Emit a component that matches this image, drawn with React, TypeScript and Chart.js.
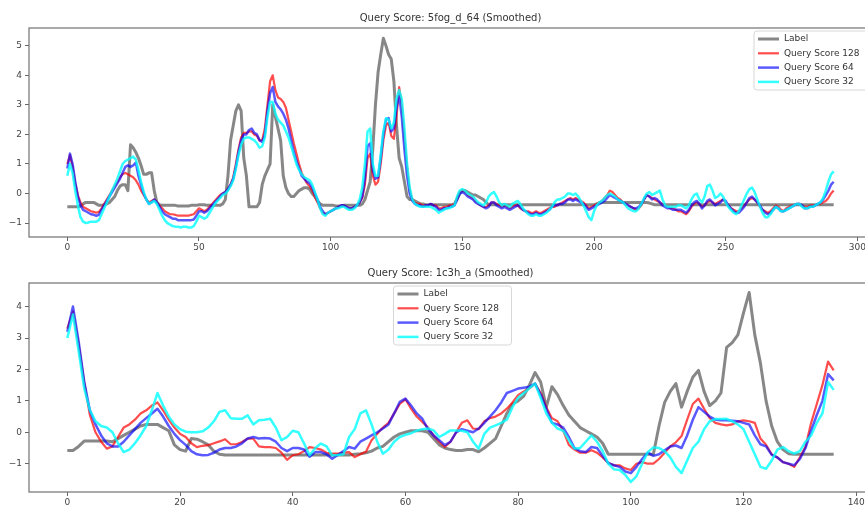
import { useEffect, useRef } from "react";
import { Chart, registerables } from "chart.js";
Chart.register(...registerables);

const seriesNames = ["Label", "Query Score 128", "Query Score 64", "Query Score 32"];
const topTitle = "Query Score: 5fog_d_64 (Smoothed)";
const botTitle = "Query Score: 1c3h_a (Smoothed)";

const topXTicks = [0, 50, 100, 150, 200, 250, 300];
const topYTicks = [-1, 0, 1, 2, 3, 4, 5];
const botXTicks = [0, 20, 40, 60, 80, 100, 120, 140];
const botYTicks = [-1, 0, 1, 2, 3, 4];

const topLabel = [
  -0.45,-0.45,-0.45,-0.45,-0.45,-0.42,-0.35,-0.3,-0.3,-0.3,
  -0.3,-0.35,-0.4,-0.4,-0.38,-0.35,-0.3,-0.2,-0.1,0.1,
  0.25,0.3,0.3,0.1,1.65,1.55,1.4,1.2,0.95,0.65,
  0.65,0.7,0.7,0.1,-0.3,-0.38,-0.4,-0.4,-0.4,-0.4,
  -0.4,-0.4,-0.42,-0.42,-0.42,-0.42,-0.42,-0.4,-0.4,-0.4,
  -0.38,-0.38,-0.38,-0.4,-0.4,-0.4,-0.4,-0.4,-0.4,-0.35,
  -0.2,0.6,1.8,2.3,2.8,3.0,2.8,1.2,0.6,-0.45,
  -0.45,-0.45,-0.45,-0.3,0.3,0.6,0.8,1.0,3.0,2.6,
  2.2,1.8,0.6,0.2,0.0,-0.1,-0.1,0.0,0.1,0.15,
  0.2,0.2,0.15,0.0,-0.1,-0.25,-0.35,-0.4,-0.4,-0.4,
  -0.4,-0.4,-0.42,-0.42,-0.42,-0.4,-0.4,-0.4,-0.4,-0.4,
  -0.4,-0.4,-0.35,-0.2,0.1,0.4,1.5,3.0,4.1,4.7,
  5.25,5.0,4.7,4.55,3.8,2.3,1.2,0.9,0.4,-0.1,
  -0.2,-0.2,-0.25,-0.3,-0.35,-0.35,-0.38,-0.38,-0.38,-0.38,
  -0.38,-0.38,-0.38,-0.38,-0.38,-0.38,-0.38,-0.35,-0.2,0.0,
  0.1,0.1,0.05,0.0,-0.05,-0.05,-0.1,-0.15,-0.2,-0.3,
  -0.38,-0.38,-0.38,-0.38,-0.38,-0.38,-0.38,-0.38,-0.38,-0.38,
  -0.38,-0.38,-0.38,-0.38,-0.38,-0.38,-0.38,-0.38,-0.38,-0.38,
  -0.38,-0.38,-0.38,-0.38,-0.38,-0.38,-0.38,-0.38,-0.38,-0.38,
  -0.38,-0.38,-0.38,-0.38,-0.38,-0.38,-0.38,-0.38,-0.38,-0.38,
  -0.38,-0.35,-0.32,-0.3,-0.3,-0.3,-0.3,-0.3,-0.3,-0.3,
  -0.3,-0.3,-0.3,-0.3,-0.3,-0.3,-0.3,-0.3,-0.3,-0.3,
  -0.3,-0.32,-0.35,-0.38,-0.38,-0.38,-0.38,-0.38,-0.38,-0.38,
  -0.38,-0.38,-0.38,-0.38,-0.38,-0.38,-0.38,-0.38,-0.38,-0.38,
  -0.38,-0.38,-0.38,-0.38,-0.38,-0.38,-0.38,-0.38,-0.38,-0.38,
  -0.38,-0.38,-0.38,-0.38,-0.38,-0.38,-0.38,-0.38,-0.38,-0.38,
  -0.38,-0.38,-0.38,-0.38,-0.38,-0.38,-0.38,-0.38,-0.38,-0.38,
  -0.38,-0.38,-0.38,-0.38,-0.38,-0.38,-0.38,-0.38,-0.38,-0.38,
  -0.38,-0.38,-0.38,-0.38,-0.38,-0.38,-0.38,-0.38,-0.38,-0.38,
  -0.38,-0.38,
];

const topRed = [
  1.0,1.3,0.9,0.35,-0.05,-0.3,-0.45,-0.5,-0.55,-0.6,
  -0.62,-0.65,-0.62,-0.5,-0.35,-0.2,-0.05,0.1,0.25,0.4,
  0.55,0.65,0.7,0.65,0.6,0.55,0.45,0.3,0.1,-0.05,
  -0.2,-0.3,-0.25,-0.2,-0.3,-0.4,-0.5,-0.6,-0.65,-0.7,
  -0.7,-0.72,-0.75,-0.75,-0.75,-0.75,-0.75,-0.72,-0.7,-0.6,
  -0.5,-0.55,-0.6,-0.55,-0.45,-0.35,-0.25,-0.15,-0.05,0.0,
  0.05,0.15,0.3,0.55,1.0,1.5,1.9,2.05,2.05,2.1,
  2.1,2.0,1.95,1.8,1.8,2.2,3.0,3.8,4.0,3.5,
  3.25,3.2,3.1,2.9,2.5,2.1,1.7,1.35,1.0,0.7,
  0.5,0.35,0.25,0.1,-0.1,-0.3,-0.5,-0.65,-0.7,-0.65,
  -0.6,-0.55,-0.5,-0.45,-0.4,-0.4,-0.45,-0.5,-0.5,-0.45,
  -0.4,-0.3,-0.15,0.3,1.2,1.35,0.6,0.3,0.4,1.0,
  1.8,2.3,2.4,1.95,1.85,2.6,3.6,3.0,1.9,0.9,
  0.1,-0.2,-0.3,-0.35,-0.35,-0.4,-0.4,-0.4,-0.35,-0.4,
  -0.4,-0.5,-0.5,-0.45,-0.45,-0.4,-0.4,-0.35,-0.15,0.05,
  0.1,0.05,-0.05,-0.1,-0.15,-0.25,-0.35,-0.4,-0.45,-0.45,
  -0.4,-0.3,-0.3,-0.35,-0.4,-0.45,-0.4,-0.45,-0.5,-0.45,
  -0.4,-0.4,-0.5,-0.55,-0.6,-0.6,-0.65,-0.65,-0.6,-0.65,
  -0.65,-0.6,-0.55,-0.5,-0.45,-0.45,-0.4,-0.35,-0.3,-0.25,
  -0.2,-0.15,-0.2,-0.15,-0.2,-0.25,-0.3,-0.4,-0.5,-0.45,
  -0.4,-0.35,-0.3,-0.25,-0.15,-0.05,0.1,0.05,-0.05,-0.15,
  -0.2,-0.3,-0.35,-0.4,-0.45,-0.5,-0.55,-0.5,-0.4,-0.2,
  -0.05,-0.1,-0.15,-0.2,-0.25,-0.3,-0.35,-0.4,-0.45,-0.5,
  -0.5,-0.55,-0.6,-0.6,-0.65,-0.7,-0.6,-0.45,-0.35,-0.3,
  -0.35,-0.45,-0.4,-0.3,-0.25,-0.3,-0.35,-0.3,-0.25,-0.2,
  -0.3,-0.4,-0.5,-0.55,-0.6,-0.6,-0.5,-0.4,-0.3,-0.2,
  -0.15,-0.2,-0.3,-0.45,-0.55,-0.6,-0.65,-0.6,-0.5,-0.4,
  -0.45,-0.55,-0.6,-0.5,-0.45,-0.4,-0.4,-0.35,-0.35,-0.4,
  -0.45,-0.45,-0.4,-0.4,-0.4,-0.35,-0.35,-0.3,-0.25,-0.15,
  0.0,0.1,
];

const topBlue = [
  0.85,1.35,1.0,0.4,-0.1,-0.4,-0.55,-0.6,-0.65,-0.7,
  -0.72,-0.75,-0.72,-0.55,-0.4,-0.25,-0.1,0.05,0.2,0.35,
  0.5,0.7,0.9,0.95,0.9,0.95,1.05,0.6,0.3,0.0,
  -0.2,-0.35,-0.3,-0.2,-0.3,-0.45,-0.6,-0.7,-0.75,-0.8,
  -0.85,-0.85,-0.9,-0.9,-0.9,-0.9,-0.9,-0.9,-0.88,-0.75,
  -0.6,-0.6,-0.65,-0.6,-0.5,-0.4,-0.3,-0.2,-0.1,0.0,
  0.05,0.15,0.3,0.5,0.9,1.4,1.8,2.0,2.0,2.15,
  2.2,2.05,2.0,1.8,1.75,2.0,2.8,3.4,3.6,3.1,
  2.95,2.85,2.7,2.5,2.2,1.8,1.4,1.1,0.85,0.6,
  0.5,0.4,0.35,0.2,0.0,-0.2,-0.45,-0.6,-0.7,-0.65,
  -0.6,-0.55,-0.5,-0.45,-0.4,-0.4,-0.45,-0.5,-0.5,-0.45,
  -0.4,-0.3,-0.1,0.5,1.6,1.7,0.8,0.5,0.55,1.2,
  2.0,2.5,2.55,2.1,2.2,2.9,3.35,2.6,1.5,0.6,
  0.0,-0.25,-0.35,-0.4,-0.4,-0.45,-0.4,-0.4,-0.35,-0.4,
  -0.45,-0.55,-0.55,-0.5,-0.5,-0.45,-0.45,-0.4,-0.2,0.0,
  0.05,0.0,-0.1,-0.15,-0.2,-0.3,-0.35,-0.4,-0.45,-0.5,
  -0.45,-0.3,-0.3,-0.4,-0.45,-0.5,-0.45,-0.5,-0.55,-0.5,
  -0.45,-0.4,-0.45,-0.55,-0.6,-0.65,-0.7,-0.7,-0.65,-0.7,
  -0.7,-0.65,-0.6,-0.55,-0.45,-0.4,-0.4,-0.35,-0.35,-0.3,
  -0.2,-0.2,-0.25,-0.2,-0.25,-0.3,-0.35,-0.45,-0.55,-0.5,
  -0.45,-0.4,-0.35,-0.3,-0.25,-0.15,-0.05,-0.1,-0.15,-0.2,
  -0.25,-0.3,-0.35,-0.4,-0.45,-0.5,-0.5,-0.45,-0.35,-0.2,
  -0.05,-0.1,-0.2,-0.15,-0.2,-0.3,-0.4,-0.45,-0.5,-0.5,
  -0.55,-0.55,-0.55,-0.55,-0.6,-0.65,-0.55,-0.4,-0.3,-0.25,
  -0.35,-0.5,-0.4,-0.25,-0.2,-0.3,-0.4,-0.35,-0.3,-0.2,
  -0.25,-0.4,-0.5,-0.6,-0.65,-0.65,-0.55,-0.45,-0.3,-0.15,
  -0.1,-0.2,-0.3,-0.4,-0.55,-0.65,-0.7,-0.65,-0.55,-0.45,
  -0.5,-0.6,-0.6,-0.55,-0.5,-0.45,-0.4,-0.35,-0.35,-0.4,
  -0.5,-0.5,-0.45,-0.45,-0.4,-0.35,-0.3,-0.2,-0.05,0.1,
  0.3,0.4,
];

const topCyan = [
  0.6,1.0,0.7,0.1,-0.4,-0.8,-0.95,-1.0,-0.98,-0.95,
  -0.95,-0.95,-0.9,-0.7,-0.5,-0.3,-0.1,0.1,0.3,0.5,
  0.75,1.0,1.1,1.15,1.2,1.25,1.15,0.8,0.4,0.05,
  -0.2,-0.35,-0.3,-0.25,-0.35,-0.55,-0.75,-0.9,-1.0,-1.05,
  -1.1,-1.12,-1.12,-1.15,-1.12,-1.12,-1.15,-1.15,-1.1,-0.95,
  -0.75,-0.8,-0.85,-0.8,-0.65,-0.5,-0.35,-0.25,-0.15,-0.05,
  0.0,0.1,0.25,0.45,0.85,1.3,1.65,1.85,1.9,1.9,
  1.85,1.8,1.7,1.55,1.6,1.9,2.6,3.1,3.1,2.7,
  2.5,2.4,2.3,2.1,1.9,1.6,1.3,1.0,0.8,0.65,
  0.55,0.5,0.45,0.3,0.05,-0.2,-0.5,-0.7,-0.75,-0.65,
  -0.6,-0.55,-0.5,-0.5,-0.45,-0.45,-0.5,-0.55,-0.55,-0.5,
  -0.4,-0.2,0.2,1.0,2.1,2.2,1.0,0.6,0.6,1.3,
  2.1,2.55,2.5,2.2,2.4,3.2,3.5,3.2,2.2,1.0,
  0.2,-0.2,-0.35,-0.4,-0.45,-0.45,-0.45,-0.45,-0.45,-0.5,
  -0.55,-0.65,-0.6,-0.55,-0.5,-0.5,-0.45,-0.4,-0.1,0.1,
  0.15,0.1,0.0,-0.05,-0.1,-0.2,-0.3,-0.35,-0.4,-0.3,
  -0.1,0.0,0.05,-0.1,-0.3,-0.4,-0.35,-0.4,-0.45,-0.35,
  -0.3,-0.25,-0.35,-0.5,-0.6,-0.7,-0.75,-0.75,-0.7,-0.75,
  -0.75,-0.7,-0.65,-0.55,-0.45,-0.3,-0.2,-0.2,-0.15,-0.1,
  0.0,0.0,-0.05,0.0,-0.1,-0.25,-0.4,-0.6,-0.8,-0.9,
  -0.6,-0.4,-0.3,-0.25,-0.15,-0.05,0.0,-0.05,-0.1,-0.2,
  -0.25,-0.3,-0.4,-0.5,-0.55,-0.6,-0.6,-0.5,-0.35,-0.15,
  0.0,0.05,-0.05,0.0,0.05,0.1,-0.2,-0.4,-0.45,-0.45,
  -0.45,-0.45,-0.4,-0.4,-0.45,-0.5,-0.4,-0.2,-0.05,0.0,
  -0.2,-0.3,-0.1,0.25,0.3,0.1,-0.15,-0.1,0.0,-0.1,
  -0.3,-0.45,-0.55,-0.65,-0.7,-0.6,-0.4,-0.2,0.0,0.15,
  0.2,0.05,-0.2,-0.45,-0.65,-0.8,-0.8,-0.7,-0.55,-0.45,
  -0.5,-0.6,-0.6,-0.55,-0.5,-0.45,-0.4,-0.35,-0.35,-0.45,
  -0.5,-0.5,-0.45,-0.45,-0.4,-0.35,-0.3,-0.15,0.1,0.4,
  0.65,0.75,
];

const botLabel = [
  -0.58,-0.58,-0.45,-0.28,-0.28,-0.28,-0.28,-0.28,-0.3,-0.2,
  -0.1,0.0,0.1,0.2,0.25,0.25,0.25,0.15,0.05,-0.4,
  -0.55,-0.6,-0.2,-0.22,-0.3,-0.4,-0.6,-0.7,-0.72,-0.72,
  -0.72,-0.72,-0.72,-0.72,-0.72,-0.72,-0.72,-0.72,-0.72,-0.72,
  -0.72,-0.72,-0.72,-0.72,-0.72,-0.72,-0.72,-0.72,-0.72,-0.72,
  -0.72,-0.7,-0.68,-0.65,-0.6,-0.5,-0.45,-0.3,-0.15,-0.05,
  0.0,0.05,0.05,0.05,0.0,-0.2,-0.4,-0.5,-0.55,-0.58,
  -0.58,-0.55,-0.55,-0.62,-0.5,-0.35,-0.2,0.2,0.6,0.9,
  1.0,1.15,1.5,1.9,1.6,0.8,1.45,1.2,0.85,0.55,
  0.35,0.15,0.05,-0.05,-0.15,-0.35,-0.7,-0.7,-0.7,-0.7,
  -0.7,-0.7,-0.7,-0.7,-0.7,0.2,0.95,1.3,1.55,0.8,
  1.3,1.75,1.97,1.3,0.85,1.0,1.25,2.7,2.85,3.1,
  3.8,4.45,3.1,2.2,1.0,0.2,-0.3,-0.55,-0.68,-0.7,
  -0.7,-0.7,-0.7,-0.7,-0.7,-0.7,-0.7,
];

const botRed = [
  3.3,3.85,2.8,1.6,0.55,0.0,-0.3,-0.52,-0.45,-0.15,
  0.15,0.25,0.4,0.6,0.7,0.85,0.95,0.7,0.4,0.15,
  -0.05,-0.15,-0.35,-0.47,-0.43,-0.41,-0.35,-0.29,-0.22,-0.38,
  -0.38,-0.31,-0.2,-0.2,-0.45,-0.47,-0.47,-0.5,-0.65,-0.88,
  -0.73,-0.7,-0.6,-0.47,-0.5,-0.55,-0.65,-0.68,-0.68,-0.65,
  -0.63,-0.79,-0.7,-0.62,-0.25,-0.05,0.15,0.3,0.6,0.9,
  1.05,0.75,0.5,0.33,0.15,-0.1,-0.3,-0.47,-0.3,0.0,
  0.3,0.38,0.12,0.1,0.35,0.45,0.5,0.6,0.75,0.95,
  1.18,1.3,1.4,1.55,1.25,0.8,0.45,0.35,0.05,-0.4,
  -0.55,-0.65,-0.65,-0.57,-0.65,-0.8,-0.98,-1.05,-1.05,-1.15,
  -1.2,-1.0,-0.95,-1.0,-1.0,-0.85,-0.65,-0.45,-0.32,-0.12,
  0.4,0.9,1.07,0.75,0.45,0.3,0.25,0.22,0.25,0.35,
  0.38,0.35,0.3,-0.2,-0.4,-0.7,-0.8,-0.95,-1.0,-1.1,
  -0.8,-0.45,0.3,0.9,1.5,2.25,1.97,
];

const botBlue = [
  3.2,4.0,2.9,1.6,0.7,0.25,-0.1,-0.35,-0.45,-0.45,
  -0.3,-0.1,0.1,0.3,0.45,0.6,0.75,0.5,0.2,-0.05,
  -0.25,-0.4,-0.6,-0.7,-0.73,-0.72,-0.65,-0.55,-0.5,-0.5,
  -0.45,-0.35,-0.2,-0.15,-0.2,-0.18,-0.2,-0.3,-0.5,-0.6,
  -0.5,-0.5,-0.55,-0.78,-0.63,-0.63,-0.7,-0.84,-0.72,-0.6,
  -0.47,-0.52,-0.3,-0.2,-0.1,0.0,0.12,0.25,0.6,0.97,
  1.07,0.85,0.6,0.43,0.1,-0.1,-0.25,-0.41,-0.3,0.0,
  0.1,0.05,0.0,0.12,0.3,0.5,0.7,0.95,1.25,1.32,
  1.39,1.42,1.45,1.55,1.2,0.75,0.3,0.25,0.15,-0.15,
  -0.5,-0.6,-0.63,-0.47,-0.5,-0.75,-0.98,-1.05,-1.1,-1.25,
  -1.3,-1.1,-0.85,-0.65,-0.75,-0.7,-0.57,-0.45,-0.42,-0.5,
  -0.1,0.4,0.8,0.65,0.5,0.4,0.38,0.38,0.37,0.35,
  0.3,0.25,-0.1,-0.38,-0.45,-0.72,-0.8,-0.95,-1.0,-1.05,
  -0.85,-0.5,0.05,0.55,1.0,1.85,1.65,
];

const botCyan = [
  3.0,3.75,2.6,1.4,0.7,0.35,0.2,0.15,0.0,-0.35,
  -0.63,-0.55,-0.35,-0.1,0.2,0.7,1.25,0.85,0.5,0.25,
  0.1,0.02,0.0,0.0,0.03,0.15,0.35,0.65,0.7,0.45,
  0.43,0.43,0.54,0.25,0.38,0.4,0.43,0.15,-0.25,-0.15,
  0.05,0.0,-0.35,-0.73,-0.5,-0.36,-0.45,-0.73,-0.72,-0.7,
  -0.15,0.1,0.6,0.7,0.25,-0.3,-0.68,-0.55,-0.3,-0.15,
  -0.08,-0.03,0.05,0.1,0.12,0.06,-0.15,-0.05,0.06,0.06,
  0.05,0.0,-0.3,-0.52,-0.05,0.15,0.22,0.3,0.4,0.8,
  1.1,1.25,1.4,1.55,1.1,0.6,0.3,0.12,0.05,-0.25,
  -0.52,-0.5,-0.3,-0.1,-0.3,-0.6,-1.0,-1.18,-1.2,-1.35,
  -1.58,-1.4,-1.0,-0.63,-0.48,-0.5,-0.6,-0.8,-1.1,-1.3,
  -0.9,-0.5,-0.3,0.1,0.35,0.42,0.42,0.43,0.35,0.25,
  0.1,-0.3,-0.7,-1.1,-1.16,-0.9,-0.55,-0.47,-0.6,-0.68,
  -0.6,-0.3,-0.1,0.3,0.6,1.6,1.35,
];

const FONT = "'DejaVu Sans', sans-serif";
const styles = [
  { color: "rgba(105,105,105,0.8)", width: 3, order: 4 },
  { color: "rgba(255,0,0,0.7)", width: 2.2, order: 3 },
  { color: "rgba(0,0,255,0.65)", width: 2.5, order: 2 },
  { color: "rgba(0,255,255,0.8)", width: 2.5, order: 1 },
];

const decorPlugin = {
  id: "decor",
  afterDraw(chart: any) {
    const o = chart.options.plugins.decor;
    const { ctx, chartArea: a } = chart;
    ctx.save();
    // frame
    ctx.strokeStyle = "rgba(110,110,110,0.9)";
    ctx.lineWidth = 1.3;
    ctx.strokeRect(a.left, a.top, a.right - a.left, a.bottom - a.top);
    // title
    ctx.fillStyle = "#333";
    ctx.font = `10px ${FONT}`;
    ctx.textAlign = "center";
    ctx.textBaseline = "middle";
    ctx.fillText(o.title, (a.left + a.right) / 2, o.titleY);
    // legend
    const w = 118, h = 59;
    const lx = o.legend === "right" ? a.right - w - 0 : (a.left + a.right) / 2 - 57;
    const ly = a.top + 3;
    ctx.fillStyle = "rgba(255,255,255,0.85)";
    ctx.strokeStyle = "rgba(215,215,215,1)";
    ctx.lineWidth = 1;
    const r = 3;
    ctx.beginPath();
    ctx.moveTo(lx + r, ly);
    ctx.lineTo(lx + w - r, ly);
    ctx.quadraticCurveTo(lx + w, ly, lx + w, ly + r);
    ctx.lineTo(lx + w, ly + h - r);
    ctx.quadraticCurveTo(lx + w, ly + h, lx + w - r, ly + h);
    ctx.lineTo(lx + r, ly + h);
    ctx.quadraticCurveTo(lx, ly + h, lx, ly + h - r);
    ctx.lineTo(lx, ly + r);
    ctx.quadraticCurveTo(lx, ly, lx + r, ly);
    ctx.closePath();
    ctx.fill();
    ctx.stroke();
    ctx.font = `9px ${FONT}`;
    ctx.textAlign = "left";
    chart.data.datasets.forEach((ds: any, i: number) => {
      const y = ly + 8 + i * 14.3;
      ctx.strokeStyle = ds.borderColor;
      ctx.lineWidth = ds.borderWidth;
      ctx.beginPath();
      ctx.moveTo(lx + 4, y);
      ctx.lineTo(lx + 25, y);
      ctx.stroke();
      ctx.fillStyle = "#333";
      ctx.fillText(ds.label, lx + 30, y);
    });
    ctx.restore();
  },
};

function fmt(v: number) {
  return v < 0 ? "\u2212" + Math.abs(v) : String(v);
}

function makeConfig(
  series: number[][],
  xTicks: number[],
  yTicks: number[],
  xMin: number,
  xMax: number,
  yMin: number,
  yMax: number,
  title: string,
  titleY: number,
  topPad: number,
  xHeight: number,
  legend: string
): any {
  return {
    type: "line",
    data: {
      datasets: series.map((arr, k) => ({
        label: seriesNames[k],
        data: arr.map((v, i) => ({ x: i, y: v })),
        borderColor: styles[k].color,
        borderWidth: styles[k].width,
        order: styles[k].order,
        pointRadius: 0,
        tension: 0,
        fill: false,
        borderJoinStyle: "round",
      })),
    },
    options: {
      responsive: false,
      animation: false,
      devicePixelRatio: 1,
      layout: { padding: { left: 0, right: 8, top: topPad, bottom: 0 } },
      plugins: {
        legend: { display: false },
        tooltip: { enabled: false },
        title: { display: false },
        decor: { title, titleY, legend },
      },
      scales: {
        x: {
          type: "linear",
          min: xMin,
          max: xMax,
          afterBuildTicks: (s: any) => {
            s.ticks = xTicks.map((v) => ({ value: v }));
          },
          afterFit: (s: any) => {
            s.height = xHeight;
          },
          grid: { display: true, drawOnChartArea: false, drawTicks: true, tickLength: 4, color: "#666" },
          border: { display: false },
          ticks: { font: { family: FONT, size: 9 }, color: "#444", padding: 1, autoSkip: false, maxRotation: 0, callback: (v: number) => fmt(v) },
        },
        y: {
          type: "linear",
          min: yMin,
          max: yMax,
          afterBuildTicks: (s: any) => {
            s.ticks = yTicks.map((v) => ({ value: v }));
          },
          afterFit: (s: any) => {
            s.width = 29;
          },
          grid: { display: true, drawOnChartArea: false, drawTicks: true, tickLength: 4, color: "#666" },
          border: { display: false },
          ticks: { font: { family: FONT, size: 9 }, color: "#444", padding: 3, autoSkip: false, callback: (v: number) => fmt(v) },
        },
      },
    },
    plugins: [decorPlugin],
  };
}

export default function App() {
  const topRef = useRef<HTMLCanvasElement>(null);
  const botRef = useRef<HTMLCanvasElement>(null);
  useEffect(() => {
    document.body.style.margin = "0";
    const c1 = new Chart(
      topRef.current as HTMLCanvasElement,
      makeConfig([topLabel, topRed, topBlue, topCyan], topXTicks, topYTicks, -14.55, 305.55, -1.47, 5.6, topTitle, 18, 28, 17, "right")
    );
    const c2 = new Chart(
      botRef.current as HTMLCanvasElement,
      makeConfig([botLabel, botRed, botBlue, botCyan], botXTicks, botYTicks, -6.8, 142.8, -1.9, 4.75, botTitle, 19, 29, 16, "center")
    );
    return () => {
      c1.destroy();
      c2.destroy();
    };
  }, []);
  return (
    <div style={{ width: 865, height: 508, overflow: "hidden", background: "#fff", position: "relative" }}>
      <canvas ref={topRef} width={880} height={254} style={{ display: "block", filter: "blur(0.4px)" }} />
      <canvas ref={botRef} width={880} height={254} style={{ display: "block", filter: "blur(0.4px)" }} />
    </div>
  );
}
